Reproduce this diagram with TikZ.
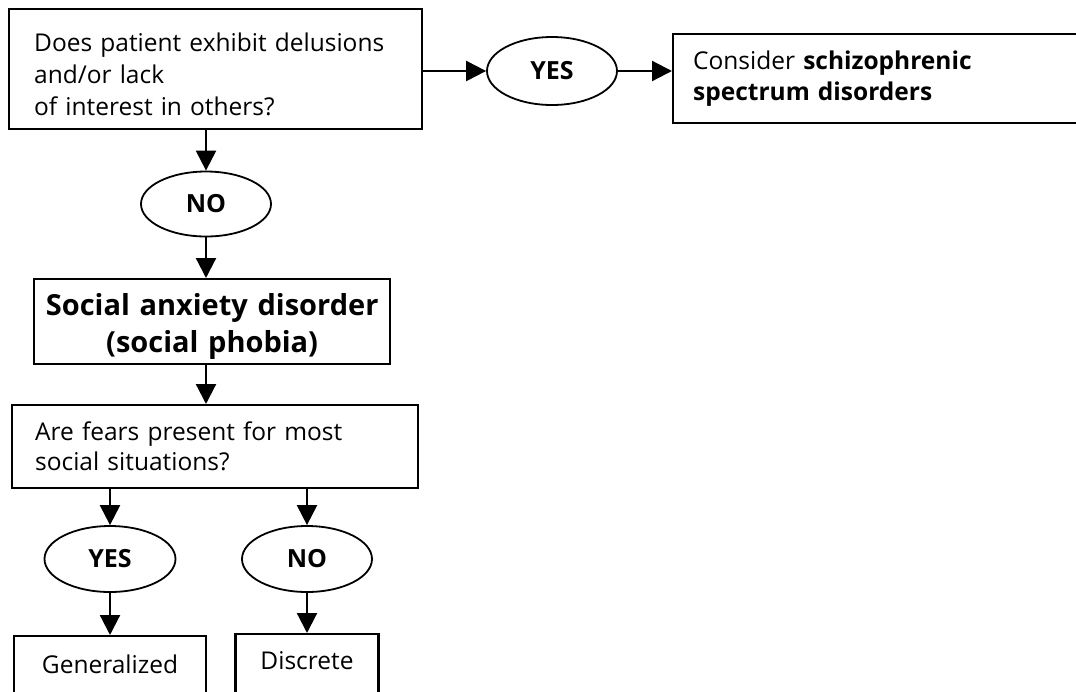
\documentclass[tikz,border=0pt]{standalone}
\usepackage{fontspec}
\setmainfont{Open Sans}
\usetikzlibrary{shapes.geometric,arrows.meta}
\tikzset{
  box/.style={draw, line width=2.3pt, rectangle, inner ysep=0pt},
  oval/.style={draw, ellipse, line width=1.8pt, inner sep=0pt, font=\fontsize{25}{28}\selectfont\bfseries},
  conn/.style={line width=2.2pt, -{Triangle[length=20pt,width=20pt]}},
  qtext/.style={font=\fontsize{24.5}{32}\selectfont},
}
\begin{document}
\begin{tikzpicture}[x=1pt,y=-1pt]
\path[use as bounding box, clip] (0,0) rectangle (1076,691);
\fill[white] (0,0) rectangle (1076,691);
% top question
\node[box, qtext, anchor=north west, minimum width=413pt, minimum height=120pt,
      inner xsep=25pt, text width=363pt, align=left] (q1) at (8,8)
  {\rule{0pt}{30pt}Does patient exhibit delusions\\and/or lack\\of interest in others?};
\node[oval, minimum width=130pt, minimum height=68pt] (yes1) at (552,71) {YES};
\node[box, anchor=north west, minimum width=428pt, minimum height=89pt,
      inner xsep=20pt, text width=388pt, align=left,
      font=\fontsize{24.5}{31}\selectfont] (cons) at (672,33)
  {Consider \textbf{schizophrenic}\\\textbf{spectrum disorders}};
\node[oval, minimum width=130pt, minimum height=65pt] (no1) at (206,204) {NO};
\node[box, anchor=north west, minimum width=356pt, minimum height=85pt,
      inner xsep=2pt, text width=352pt, align=center,
      font=\fontsize{29}{37}\selectfont\bfseries] (soc) at (33,278)
  {\rule{0pt}{32pt}Social anxiety disorder\\(social phobia)};
\node[box, qtext, anchor=north west, minimum width=406pt, minimum height=83pt,
      inner xsep=23pt, text width=360pt, align=left,
      font=\fontsize{24.5}{30}\selectfont] (q2) at (11,404)
  {Are fears present for most\\social situations?};
\node[oval, minimum width=131pt, minimum height=66pt] (yes2) at (110,559) {YES};
\node[oval, minimum width=130pt, minimum height=66pt] (no2) at (307,559) {NO};
\node[box, qtext, anchor=north, minimum width=192pt, minimum height=100pt,
      text height=19pt, text depth=45pt] (gen) at (110,635) {Generalized};
\node[box, qtext, anchor=north, minimum width=143pt, minimum height=100pt,
      text height=19pt, text depth=49pt] (dis) at (307,633) {Discrete};
% connectors
\draw[conn] (yes1.west -| q1.east) -- (yes1.west);
\draw[conn] (yes1.east) -- (yes1.east -| cons.west);
\draw[conn] (no1.north |- q1.south) -- (no1.north);
\draw[conn] (no1.south) -- (no1.south |- soc.north);
\draw[conn] (no1.south |- soc.south) -- (no1.south |- q2.north);
\draw[conn] (yes2.north |- q2.south) -- (yes2.north);
\draw[conn] (no2.north |- q2.south) -- (no2.north);
\draw[conn] (yes2.south) -- (gen.north);
\draw[conn] (no2.south) -- (dis.north);
\end{tikzpicture}
\end{document}
